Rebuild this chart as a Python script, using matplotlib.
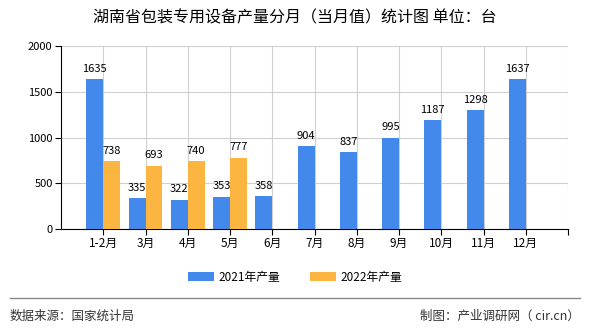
import matplotlib
matplotlib.use("Agg")
import matplotlib.pyplot as plt
import numpy as np
from matplotlib.patches import Patch
from matplotlib.lines import Line2D

plt.rcParams['font.family'] = ['Noto Sans CJK SC', 'DejaVu Sans']

categories = ["1-2月", "3月", "4月", "5月", "6月", "7月", "8月", "9月", "10月", "11月", "12月"]
values_2021 = [1635, 335, 322, 353, 358, 904, 837, 995, 1187, 1298, 1637]
values_2022 = [738, 693, 740, 777]
series_names = ["2021年产量", "2022年产量"]
title = "湖南省包装专用设备产量分月（当月值）统计图 单位：台"
source_left = "数据来源：国家统计局"
source_right = "制图：产业调研网（ cir.cn）"

c_blue = "#4389EC"
c_orange = "#FBB540"

fig = plt.figure(figsize=(5.9, 3.3), dpi=100)
ax = fig.add_axes([61/590, 101/330, 507/590, 183/330])

x = np.arange(len(categories))
w = 0.4
ax.bar(x - w/2, values_2021, width=w, color=c_blue, zorder=3)
x2 = np.arange(len(values_2022))
ax.bar(x2 + w/2, values_2022, width=w, color=c_orange, zorder=3)

for xi, v in zip(x, values_2021):
    ax.text(xi - w/2, v + 60, str(v), ha='center', va='bottom', fontsize=8, color='black', zorder=4)
for xi, v in zip(x2, values_2022):
    ax.text(xi + w/2, v + 60, str(v), ha='center', va='bottom', fontsize=8, color='black', zorder=4)

ax.set_xlim(-1, len(categories))
ax.set_ylim(0, 2000)
ticks = list(range(len(categories) + 1))
ax.set_xticks(ticks)
ax.set_xticklabels(categories + [""], fontsize=8.5)
ax.set_yticks([0, 500, 1000, 1500, 2000])
ax.set_yticklabels(["0", "500", "1000", "1500", "2000"], fontsize=8)
ax.grid(True, color="#d0d0d0", linewidth=0.8, zorder=0)
ax.set_axisbelow(True)
for s in ['top', 'right']:
    ax.spines[s].set_visible(False)
ax.spines['left'].set_color('black')
ax.spines['bottom'].set_color('black')
ax.tick_params(axis='both', direction='out', length=4, width=0.8, colors='black', pad=2)

fig.text(0.5, 1 - 18/330, title, ha='center', va='center', fontsize=11.5)

handles = [Patch(facecolor=c_blue), Patch(facecolor=c_orange)]
fig.legend(handles, series_names, loc='center', bbox_to_anchor=(0.5, 1 - 277/330), ncol=2,
           frameon=False, fontsize=8.5, handlelength=2.2, handleheight=0.9, columnspacing=2.5,
           handletextpad=0.4)

fig.add_artist(Line2D([10/590, 580/590], [1 - 298/330, 1 - 298/330], color='#888888', linewidth=1))
fig.text(10/590, 1 - 316/330, source_left, ha='left', va='center', fontsize=9, color='#333333')
fig.text(580/590, 1 - 316/330, source_right, ha='right', va='center', fontsize=9, color='#333333')

fig.savefig("out.png", dpi=100)
